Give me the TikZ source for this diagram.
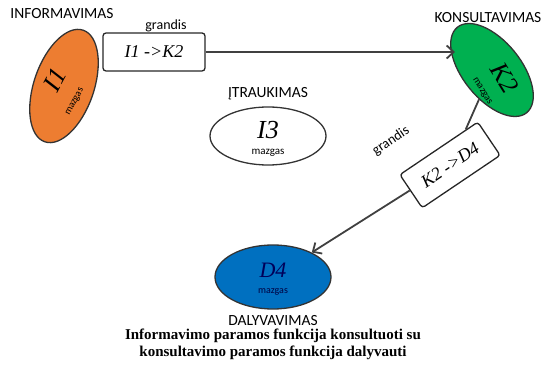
\documentclass[tikz,border=0pt]{standalone}
\usepackage{fontspec}
\setmainfont{Carlito}
\newfontfamily\capfont{Liberation Serif}
\newfontfamily\nodeit{Liberation Serif}
\usepackage{tikz}
\usetikzlibrary{arrows.meta,shapes,positioning}
\definecolor{orangeI}{RGB}{237,125,49}
\definecolor{greenK}{RGB}{0,176,80}
\definecolor{blueD}{RGB}{0,112,192}

\begin{document}
\begin{tikzpicture}[x=1pt,y=1pt,
mazgas/.style={
ellipse,
draw=black!80,
line width=1.3pt,
inner sep=0pt
},
vardas/.style={font=\nodeit\itshape\fontsize{26}{26}\selectfont,inner sep=0pt},
mzg/.style={font=\fontsize{10}{10}\selectfont,inner sep=0pt},
grandis/.style={
rectangle,
draw=black!85,
line width=1.3pt,
rounded corners=3pt,
font=\nodeit\itshape\fontsize{18}{18}\selectfont
},
lbl/.style={font=\fontsize{15.5}{15.5}\selectfont},
glbl/.style={font=\fontsize{14}{14}\selectfont,inner sep=1pt},
wire/.style={line width=1.8pt,draw=black!75},
arr/.style={wire,-{Straight Barb[length=7pt,width=13pt]}},
]
\useasboundingbox (0,0) rectangle (544,-379);
% mazgai
\node (i1) [mazgas,fill=orangeI,minimum width=118pt,minimum height=60pt,rotate=71] at (64,-86) {};
\node (i1v) [vardas,rotate=62] at (55,-80) {I1};
\node (i1m) [mzg,rotate=62] at (75,-102) {mazgas};
\node (infoLbl) [lbl] at (62,-14) {INFORMAVIMAS};
\node (k2) [mazgas,fill=greenK,minimum width=110pt,minimum height=58pt,rotate=-51] at (492,-70) {};
\node (k2v) [vardas,rotate=-58] at (505,-78) {K2};
\node (k2m) [mzg,rotate=-58] at (482,-91) {mazgas};
\node (konsLbl) [lbl] at (488,-18) {KONSULTAVIMAS};
\node (i3) [mazgas,fill=white,minimum width=116pt,minimum height=58pt] at (268,-136) {};
\node (i3v) [vardas] at (268,-130) {I3};
\node (i3m) [mzg,font=\fontsize{11}{11}\selectfont] at (268,-153) {mazgas};
\node (itrLbl) [lbl,above=3pt of i3] {ĮTRAUKIMAS};
\node (d4) [mazgas,fill=blueD,minimum width=116pt,minimum height=64pt] at (273,-277) {};
\node (d4v) [vardas,font=\nodeit\itshape\fontsize{22}{22}\selectfont,text=blue!35!black] at (273,-270) {D4};
\node (d4m) [mzg,text=blue!25!black] at (273,-292) {mazgas};
\node (dalLbl) [lbl,below=2pt of d4] {DALYVAVIMAS};
\node (caption) [below=-3pt of dalLbl,align=center,font=\capfont\bfseries\fontsize{15}{16.5}\selectfont]
{Informavimo paramos funkcija konsultuoti su\\konsultavimo paramos funkcija dalyvauti};
% grandys
\node (i1k2) [grandis,minimum width=102pt,minimum height=38pt] at (154,-52) {I1 ->K2};
\node (grand1) [glbl,above=-1pt of i1k2,xshift=12pt] {grandis};
\node (k2d4) [grandis,rotate=34,minimum width=94pt,minimum height=40pt] at (450,-165) {K2 ->D4};
\node (grand2) [glbl,rotate=34] at (391,-141) {grandis};
\draw[arr,shorten >=37pt] (i1k2.east) -- (i1k2.east -| k2.center);
\draw[wire] (k2) -- (k2d4);
\draw[arr] (k2d4) -- (d4);
\end{tikzpicture}
\end{document}
